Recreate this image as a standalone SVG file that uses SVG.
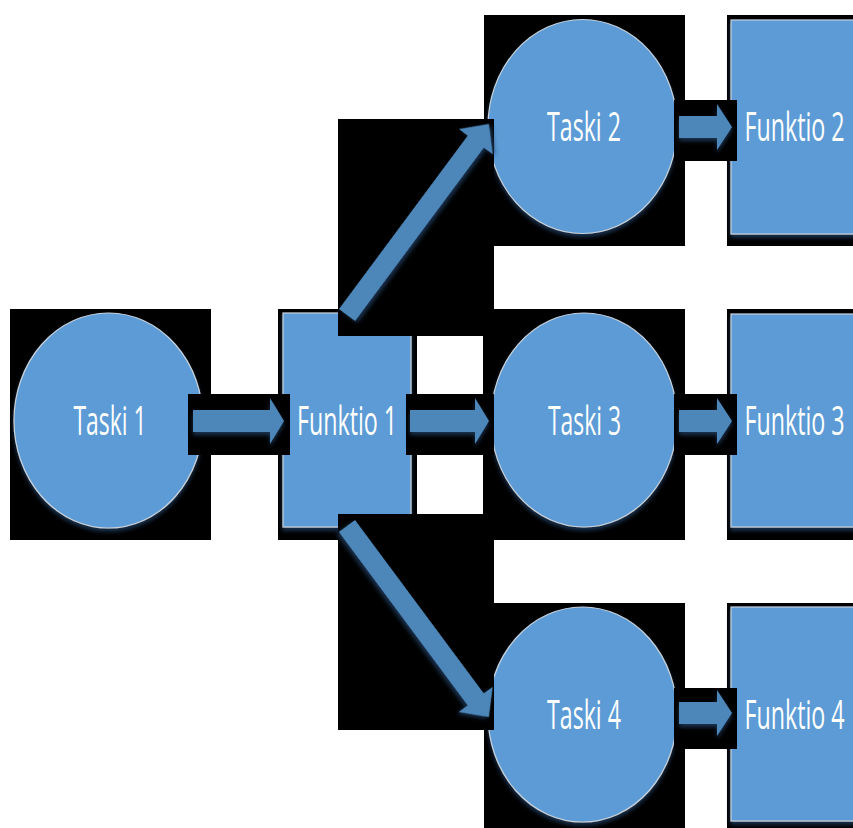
<svg xmlns="http://www.w3.org/2000/svg" width="853" height="828" viewBox="0 0 853 828">
  <style>
    .bg { fill: #000000; }
    .node { fill: #5B9BD5; stroke: #C9D3DD; stroke-width: 1.2; filter: url(#sh); }
    .arrow { fill: #4D87BA; filter: url(#sh); }
    .lbl { fill: #FFFFFF; font-family: "Open Sans", "Liberation Sans", sans-serif; font-size: 40px; text-anchor: middle; }
  </style>
  <defs>
    <filter id="sh" x="-10%" y="-10%" width="120%" height="130%">
      <feDropShadow dx="0" dy="3" stdDeviation="2" flood-color="#1C3D5E" flood-opacity="0.85"/>
    </filter>
  </defs>
  <rect width="853" height="828" fill="#FFFFFF"/>

  <g id="taski1">
    <rect class="bg" x="10" y="309" width="201" height="231"/>
    <ellipse class="node" cx="108.5" cy="420.5" rx="94.5" ry="107.5"/>
    <text class="lbl" transform="translate(110,435) scale(0.6,1)" textLength="122" lengthAdjust="spacingAndGlyphs">Taski 1</text>
  </g>
  <g id="funktio1">
    <rect class="bg" x="278" y="309" width="139" height="231"/>
    <rect class="node" x="283" y="313" width="128" height="214"/>
    <text class="lbl" transform="translate(347,435) scale(0.6,1)" textLength="167" lengthAdjust="spacingAndGlyphs">Funktio 1</text>
  </g>
  <g id="taski2">
    <rect class="bg" x="484" y="15" width="201" height="231"/>
    <ellipse class="node" cx="582.5" cy="126.5" rx="94.5" ry="107"/>
    <text class="lbl" transform="translate(584,141) scale(0.6,1)" textLength="123" lengthAdjust="spacingAndGlyphs">Taski 2</text>
  </g>
  <g id="funktio2">
    <rect class="bg" x="727" y="15" width="130" height="231"/>
    <rect class="node" x="731" y="20" width="128" height="214"/>
    <text class="lbl" transform="translate(794.5,141) scale(0.6,1)" textLength="167" lengthAdjust="spacingAndGlyphs">Funktio 2</text>
  </g>
  <g id="taski3">
    <rect class="bg" x="483" y="309" width="202" height="231"/>
    <ellipse class="node" cx="584" cy="420" rx="93" ry="107"/>
    <text class="lbl" transform="translate(584.5,435) scale(0.6,1)" textLength="122" lengthAdjust="spacingAndGlyphs">Taski 3</text>
  </g>
  <g id="funktio3">
    <rect class="bg" x="727" y="309" width="130" height="231"/>
    <rect class="node" x="731" y="314" width="128" height="213"/>
    <text class="lbl" transform="translate(794.5,435) scale(0.6,1)" textLength="167" lengthAdjust="spacingAndGlyphs">Funktio 3</text>
  </g>
  <g id="taski4">
    <rect class="bg" x="484" y="603" width="201" height="230"/>
    <ellipse class="node" cx="582.5" cy="714.5" rx="94.5" ry="107.5"/>
    <text class="lbl" transform="translate(584,729) scale(0.6,1)" textLength="123" lengthAdjust="spacingAndGlyphs">Taski 4</text>
  </g>
  <g id="funktio4">
    <rect class="bg" x="727" y="603" width="130" height="230"/>
    <rect class="node" x="731" y="607" width="128" height="214"/>
    <text class="lbl" transform="translate(794.5,729) scale(0.6,1)" textLength="167" lengthAdjust="spacingAndGlyphs">Funktio 4</text>
  </g>

  <g id="connectors">
    <!-- Taski 1 -> Funktio 1 -->
    <rect class="bg" x="188" y="394" width="102" height="61"/>
    <polygon class="arrow" points="193,410 270,410 270,398 284,421 270,444 270,432 193,432"/>
    <!-- Funktio 1 -> Taski 3 -->
    <rect class="bg" x="406" y="394" width="88" height="61"/>
    <polygon class="arrow" points="410,410 475,410 475,398 489,421 475,444 475,432 410,432"/>
    <!-- Taski 2 -> Funktio 2 -->
    <rect class="bg" x="674" y="100" width="63" height="61"/>
    <polygon class="arrow" points="679,116 717,116 717,104 732,127 717,150 717,138 679,138"/>
    <!-- Taski 3 -> Funktio 3 -->
    <rect class="bg" x="674" y="394" width="63" height="61"/>
    <polygon class="arrow" points="679,410 717,410 717,398 732,421 717,444 717,432 679,432"/>
    <!-- Taski 4 -> Funktio 4 -->
    <rect class="bg" x="674" y="688" width="63" height="61"/>
    <polygon class="arrow" points="679,702 717,702 717,690 732,713 717,736 717,724 679,724"/>
    <!-- Funktio 1 -> Taski 2 -->
    <rect class="bg" x="338" y="119" width="156" height="217"/>
    <polygon class="arrow" transform="translate(347,315) rotate(-53.4)" points="0,-10 216,-10 216,-21 238,0 216,21 216,10 0,10"/>
    <!-- Funktio 1 -> Taski 4 -->
    <rect class="bg" x="338" y="514" width="156" height="216"/>
    <polygon class="arrow" transform="translate(347,526) rotate(53.4)" points="0,-10 216,-10 216,-21 238,0 216,21 216,10 0,10"/>
  </g>
</svg>
